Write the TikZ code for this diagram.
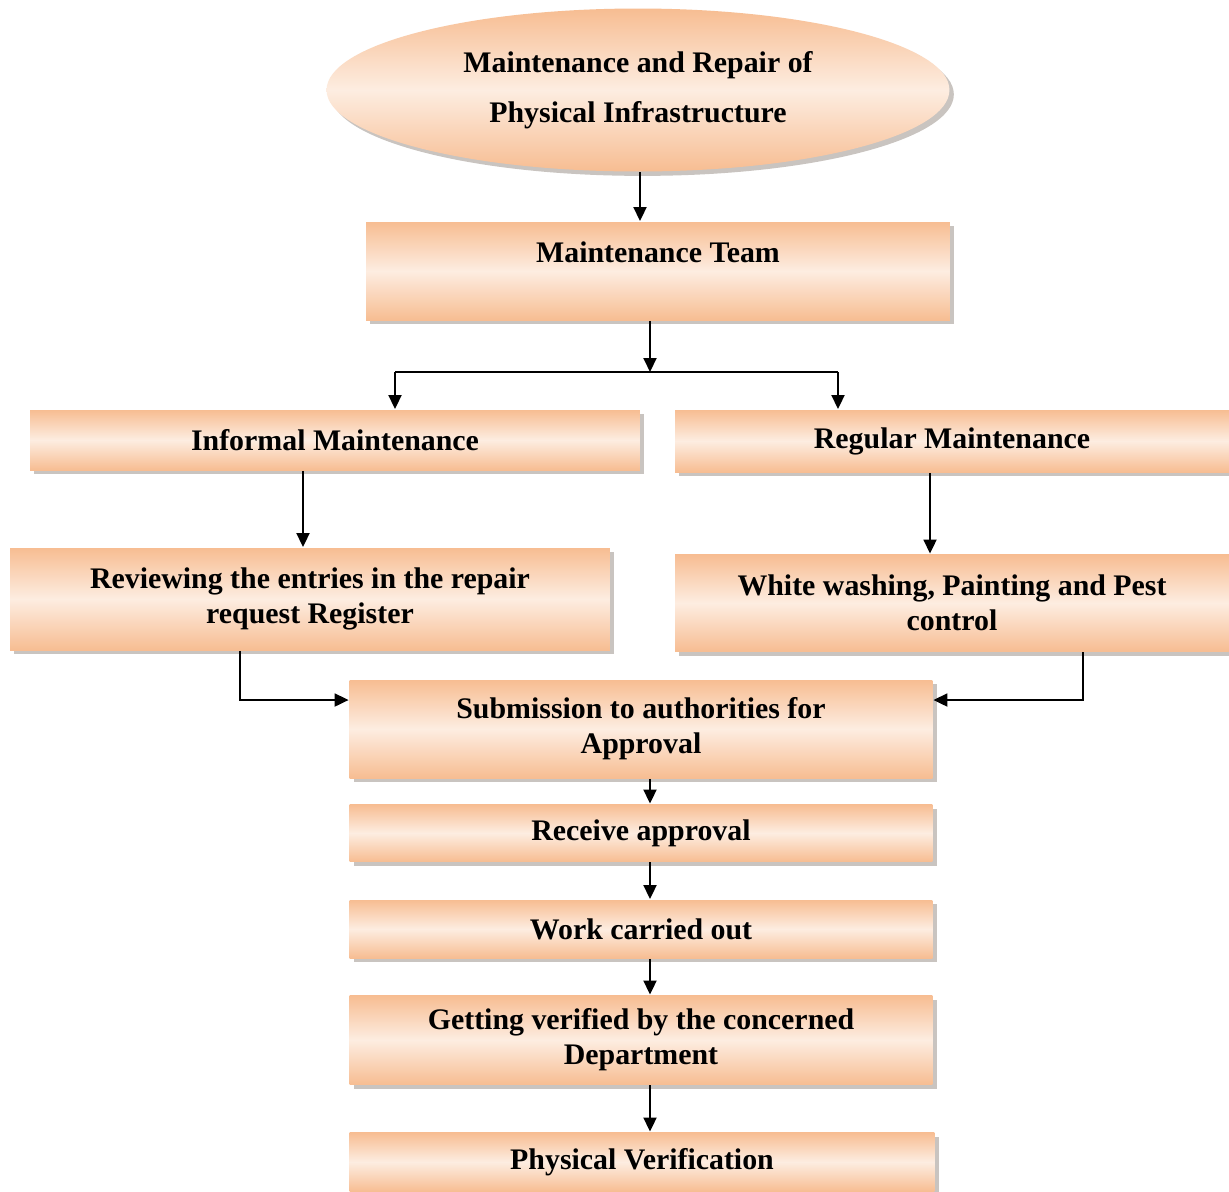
\documentclass[tikz,border=0pt]{standalone}
\usepackage{fontspec}
\setmainfont{Liberation Serif}
\usetikzlibrary{arrows.meta, positioning, shapes.geometric, shadows}
\definecolor{cpeach}{HTML}{FDEDE1}
\definecolor{corange}{HTML}{F7BD92}
\definecolor{cshadow}{HTML}{C9C4C0}
\tikzset{
  every picture/.style={font=\bfseries\fontsize{17}{20}\selectfont, line width=1.1pt},
  box/.style={draw=none, top color=corange, bottom color=corange, middle color=cpeach, align=center, inner sep=2pt,
    drop shadow={shadow xshift=2.5pt, shadow yshift=-2.5pt, fill=cshadow, opacity=1}},
  arrow/.style={-{Triangle[length=2.8mm, width=2.6mm]}, draw=black},
}
\begin{document}
\begin{tikzpicture}[x=0.02cm, y=-0.02cm]
  \useasboundingbox[fill=white] (0,0) rectangle (1229,1191);
  % top of the chart
  \node[box, ellipse, minimum width=12.46cm, minimum height=3.26cm] (top) at (638,90)
    {Maintenance and Repair of\\[0.3cm]Physical Infrastructure};
  \node[box, minimum width=11.68cm, minimum height=1.96cm, inner sep=0pt, text height=0.8cm, text depth=1.16cm] (team) at (658,271) {Maintenance Team};
  % two branches
  \node[box, minimum width=12.2cm, minimum height=1.2cm] (informal) at (335,440) {Informal Maintenance};
  \node[box, minimum width=11.08cm, minimum height=1.24cm] (regular) at (952,441) {Regular Maintenance};
  \node[box, minimum width=12cm, minimum height=2.04cm] (review) at (310,599) {Reviewing the entries in the repair\\request Register};
  \node[box, minimum width=11.08cm, minimum height=1.94cm] (white) at (952,603) {White washing, Painting and Pest\\control};
  % main column
  \node[box, minimum width=11.66cm, minimum height=1.96cm] (submit) at (641,729) {Submission to authorities for\\Approval};
  \node[box, minimum width=11.66cm, minimum height=1.14cm] (receive) at (641,833) {Receive approval};
  \node[box, minimum width=11.66cm, minimum height=1.16cm] (work) at (641,929) {Work carried out};
  \node[box, minimum width=11.66cm, minimum height=1.78cm] (verify) at (641,1040) {Getting verified by the concerned\\Department};
  \node[box, minimum width=11.7cm, minimum height=1.18cm] (physical) at (642,1162) {Physical Verification};
  % connectors
  \coordinate (split) at (650,372);
  \coordinate (lj) at (395,372);
  \coordinate (rj) at (838,372);
  \draw[arrow] (top.south -| 640,0) -- (team.north -| 640,0);
  \draw[arrow] (team.south -| split) -- (split);
  \draw (lj) -- (rj);
  \draw[arrow] (lj) -- (lj |- informal.north);
  \draw[arrow] (rj) -- (rj |- regular.north);
  \draw[arrow] ([xshift=-0.14cm]informal.south -| review) -- ([xshift=-0.14cm]review.north);
  \draw[arrow] ([xshift=-0.44cm]regular.south) -- ([xshift=-0.44cm]white.north);
  \draw[arrow] ([xshift=-1.4cm]review.south) |- ([yshift=0.58cm]submit.west);
  \draw[arrow] ([xshift=2.62cm]white.south) |- ([yshift=0.58cm]submit.east);
  \draw[arrow] (submit.south -| split) -- (receive.north -| split);
  \draw[arrow] (receive.south -| split) -- (work.north -| split);
  \draw[arrow] (work.south -| split) -- (verify.north -| split);
  \draw[arrow] (verify.south -| split) -- (physical.north -| split);
\end{tikzpicture}
\end{document}
